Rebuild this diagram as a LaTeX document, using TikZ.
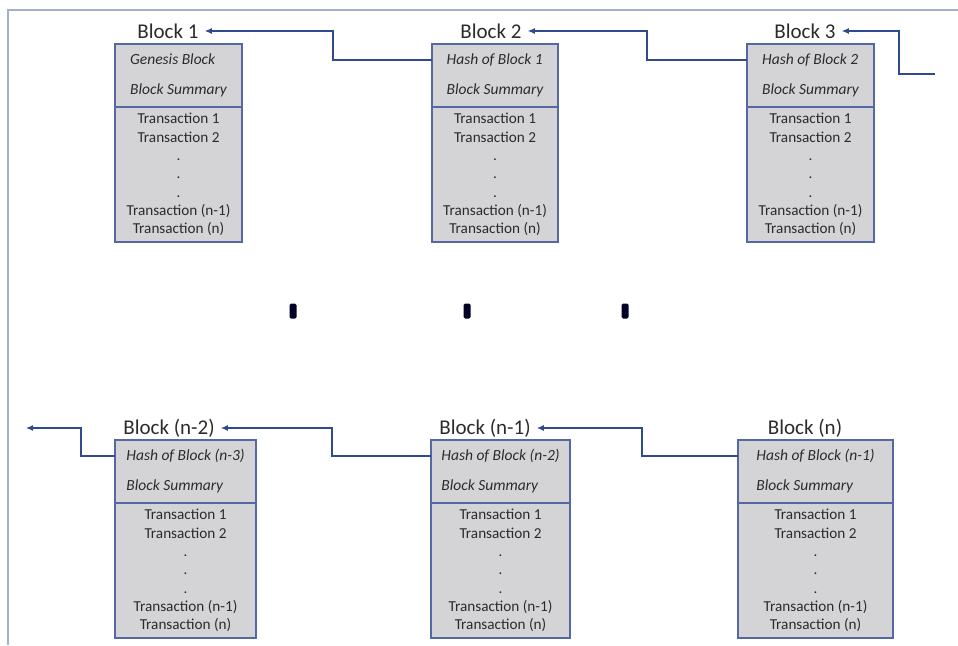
\documentclass[tikz,border=0pt]{standalone}
\usepackage{fontspec}
\setmainfont{Carlito}
\usepackage{tikz}
\usetikzlibrary{arrows.meta,positioning}
\definecolor{ink}{HTML}{2B2B2B}
\definecolor{navy}{HTML}{2F4B8E}
\definecolor{edge}{HTML}{5468A6}
\definecolor{boxgray}{HTML}{D4D4D6}
\definecolor{frame}{HTML}{A4B0CA}

\begin{document}
\begin{tikzpicture}[x=1pt,y=-1pt,node distance=0pt,>={Latex[length=7pt,width=6pt]}]
  \tikzstyle{hash}=[draw=edge,line width=1.1pt,fill=boxgray,outer sep=0pt,anchor=north west,minimum height=63pt,inner xsep=4pt,align=left,text=ink,font=\fontsize{15.5}{30}\selectfont\itshape]
  \tikzstyle{txs}=[draw=edge,line width=1.1pt,fill=boxgray,outer sep=0pt,minimum height=135pt,inner xsep=4pt,align=center,text=ink,font=\fontsize{15.2}{18.3}\selectfont]
  \tikzstyle{title}=[text=ink,inner xsep=6pt,font=\fontsize{21}{24}\selectfont]
  \tikzstyle{link}=[->,draw=navy,line width=1.1pt]
  \tikzstyle{gap}=[fill=black!85!blue,minimum width=7pt,minimum height=15pt,inner sep=0pt,rounded corners=1.5pt]
  \useasboundingbox (0,0) rectangle (958,645);
  \draw[frame,line width=1.2pt] (958,10) -- (8,10) -- (8,645);
  % first row
  \node[hash,minimum width=127pt] (hash1) at (115,44) {Genesis Block\\Block Summary};
  \node[txs,minimum width=127pt,below=of hash1] (txs1) {Transaction 1\\Transaction 2\\.\\.\\.\\Transaction (n-1)\\Transaction (n)};
  \node[title] (blk1) at (168,31) {Block 1};
  \node[hash,minimum width=126pt] (hash2) at (432,44) {Hash of Block 1\\Block Summary};
  \node[txs,minimum width=126pt,below=of hash2] (txs2) {Transaction 1\\Transaction 2\\.\\.\\.\\Transaction (n-1)\\Transaction (n)};
  \node[title] (blk2) at (491,31) {Block 2};
  \node[hash,minimum width=127pt] (hash3) at (747,44) {Hash of Block 2\\Block Summary};
  \node[txs,minimum width=127pt,below=of hash3] (txs3) {Transaction 1\\Transaction 2\\.\\.\\.\\Transaction (n-1)\\Transaction (n)};
  \node[title] (blk3) at (805,31) {Block 3};
  \coordinate (in4) at (935,74);
  % gap markers
  \node[gap] (gap1) at (293,311) {};
  \node[gap] (gap2) at (467,311) {};
  \node[gap] (gap3) at (625,311) {};
  % last row
  \node[hash,minimum width=141pt] (hashm2) at (115,440) {Hash of Block (n-3)\\Block Summary};
  \node[txs,minimum width=141pt,below=of hashm2] (txsm2) {Transaction 1\\Transaction 2\\.\\.\\.\\Transaction (n-1)\\Transaction (n)};
  \node[title] (blkm2) at (169,428) {Block (n-2)};
  \node[hash,minimum width=139pt] (hashm1) at (431,440) {Hash of Block (n-2)\\Block Summary};
  \node[txs,minimum width=139pt,below=of hashm1] (txsm1) {Transaction 1\\Transaction 2\\.\\.\\.\\Transaction (n-1)\\Transaction (n)};
  \node[title] (blkm1) at (485,428) {Block (n-1)};
  \node[hash,minimum width=155pt] (hashn) at (738,440) {Hash of Block (n-1)\\Block Summary};
  \node[txs,minimum width=155pt,below=of hashn] (txsn) {Transaction 1\\Transaction 2\\.\\.\\.\\Transaction (n-1)\\Transaction (n)};
  \node[title] (blkn) at (805,428) {Block (n)};
  \coordinate (out) at (26,428);
  % back links
  \draw[link] ([yshift=15.5pt]hash2.west) -- ++(-99,0) |- (blk1.east);
  \draw[link] ([yshift=15.5pt]hash3.west) -- ++(-100,0) |- (blk2.east);
  \draw[link] (in4) -- ++(-36,0) |- (blk3.east);
  \draw[link] ([yshift=15.5pt]hashn.west) -- ++(-96,0) |- (blkm1.east);
  \draw[link] ([yshift=15.5pt]hashm1.west) -- ++(-99,0) |- (blkm2.east);
  \draw[link] ([yshift=15.5pt]hashm2.west) -- ++(-34,0) |- (out);
\end{tikzpicture}
\end{document}
